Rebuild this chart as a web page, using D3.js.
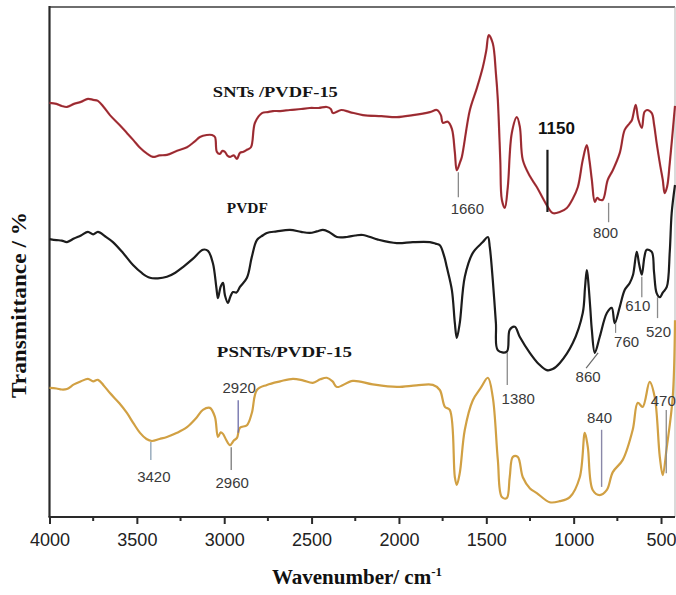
<!DOCTYPE html>
<html>
<head>
<meta charset="utf-8">
<script src="https://cdn.jsdelivr.net/npm/d3@7"></script>
<style>
  html, body { margin: 0; padding: 0; background: #fff; }
  svg { display: block; }
</style>
</head>
<body>
<svg id="chart" width="676" height="595"></svg>
<script>
// FTIR spectra: [wavenumber (cm-1), transmittance (offset, a.u.)]
const snts = [
  [4000,81.2],[3960,81.0],[3930,80.6],[3900,80.4],[3860,81.0],[3820,81.4],[3780,82.0],[3750,81.8],[3723,81.6],
  [3690,80.4],[3654,78.8],[3600,76.9],[3557,75.3],[3520,73.9],[3482,72.4],[3440,71.2],[3408,70.6],[3370,70.9],
  [3328,71.0],[3270,71.8],[3213,72.5],[3170,73.6],[3139,74.5],[3100,74.9],[3070,74.9],[3053,74.5],[3042,71.6],
  [3025,71.2],[3010,71.8],[2996,71.6],[2980,70.8],[2967,70.6],[2945,70.9],[2927,70.2],[2910,71.4],[2890,71.6],
  [2870,72.0],[2847,72.5],[2824,77.3],[2784,79.2],[2750,79.4],[2721,79.6],[2680,79.6],[2624,79.8],[2560,80.0],
  [2510,80.2],[2460,80.2],[2413,80.4],[2390,80.0],[2378,79.2],[2330,79.8],[2281,79.4],[2206,78.8],[2100,78.6],
  [2012,78.4],[1920,78.8],[1823,79.4],[1783,79.8],[1760,78.8],[1749,77.3],[1720,77.5],[1697,76.1],[1680,71.5],
  [1669,68.0],[1650,69.6],[1640,70.6],[1594,79.8],[1554,84.1],[1520,88.2],[1500,91.5],[1486,94.5],[1463,92.9],
  [1445,87.0],[1434,81.8],[1420,70.0],[1411,62.2],[1394,60.6],[1377,64.7],[1354,75.3],[1325,78.4],[1308,76.5],
  [1291,70.0],[1250,66.8],[1211,64.7],[1160,61.5],[1120,59.6],[1080,59.8],[1039,60.6],[1005,62.4],[976,64.7],
  [948,70.0],[925,72.9],[910,70.0],[896,66.1],[879,61.8],[865,62.6],[851,62.2],[833,62.2],[805,66.1],
  [776,68.0],[736,71.4],[708,75.9],[680,77.2],[667,77.8],[645,80.8],[630,78.0],[610,76.3],[595,79.4],
  [580,79.8],[553,79.2],[540,77.0],[525,73.3],[505,69.0],[490,66.1],[479,63.5],[465,64.8],[450,69.4],[420,80.6]
];

const pvdf = [
  [4000,54.5],[3960,54.3],[3930,54.2],[3900,53.9],[3860,54.6],[3820,55.2],[3780,55.9],[3750,55.4],[3723,55.9],
  [3680,55.0],[3637,53.9],[3580,51.8],[3522,49.4],[3470,47.8],[3425,46.9],[3380,46.8],[3328,47.1],[3280,47.9],
  [3236,49.0],[3180,50.6],[3122,52.4],[3093,52.2],[3065,49.8],[3045,45.0],[3036,42.9],[3020,45.2],[3007,45.9],
  [2996,43.5],[2979,42.0],[2965,43.2],[2950,44.1],[2930,44.0],[2910,45.1],[2870,46.9],[2842,51.0],[2813,54.3],
  [2780,55.2],[2756,55.7],[2700,56.0],[2624,56.3],[2560,55.9],[2510,55.7],[2470,56.0],[2435,56.3],[2400,55.9],
  [2355,54.9],[2298,54.9],[2250,55.2],[2206,55.3],[2120,54.4],[2012,53.7],[1920,53.9],[1823,53.9],[1790,53.6],
  [1766,53.3],[1740,51.0],[1726,49.0],[1697,44.5],[1680,38.0],[1669,35.1],[1652,38.0],[1623,47.1],[1577,51.8],
  [1520,53.9],[1491,54.9],[1480,52.9],[1463,46.5],[1445,38.0],[1434,32.7],[1383,32.4],[1366,36.7],[1337,37.3],
  [1308,35.3],[1251,32.2],[1200,30.0],[1154,28.8],[1120,29.0],[1079,30.2],[1005,34.1],[948,40.0],[935,45.0],
  [925,48.4],[919,47.1],[905,41.0],[896,36.7],[879,32.2],[851,35.3],[810,40.0],[782,41.0],[765,38.0],
  [736,41.2],[708,44.5],[679,45.9],[660,47.5],[639,52.0],[625,49.5],[610,47.5],[595,51.0],[582,52.4],
  [553,52.0],[540,48.0],[525,43.9],[507,43.1],[490,44.0],[467,45.1],[450,52.0],[439,59.6],[420,65.1]
];

const psnts = [
  [4000,25.3],[3960,25.2],[3930,25.0],[3900,25.1],[3860,26.0],[3820,26.6],[3780,27.1],[3750,26.6],[3723,26.9],
  [3690,25.8],[3654,24.3],[3600,22.3],[3557,20.4],[3520,18.4],[3482,16.5],[3445,15.3],[3414,14.9],[3370,15.3],
  [3328,15.7],[3270,16.5],[3213,17.6],[3160,19.4],[3122,21.0],[3082,21.4],[3053,19.6],[3036,15.7],[3020,16.6],
  [3007,16.3],[2990,15.2],[2967,14.1],[2945,15.0],[2927,15.5],[2910,17.5],[2870,18.0],[2842,20.4],[2813,24.9],
  [2756,25.9],[2680,26.6],[2607,27.1],[2550,26.8],[2493,26.3],[2450,27.0],[2413,27.3],[2380,26.6],[2355,25.5],
  [2264,26.7],[2150,26.0],[2012,25.5],[1900,25.8],[1806,25.9],[1766,24.9],[1737,21.6],[1709,21.0],[1680,7.8],
  [1669,6.3],[1652,8.6],[1623,17.1],[1577,22.9],[1530,25.4],[1491,27.3],[1463,23.5],[1434,11.2],[1411,3.9],
  [1383,3.7],[1366,7.8],[1348,11.8],[1320,11.8],[1291,7.8],[1250,5.6],[1211,4.7],[1137,2.9],[1080,3.1],
  [1022,3.9],[965,7.8],[936,16.5],[919,13.7],[891,5.3],[851,4.3],[810,5.3],[776,8.8],[719,11.2],
  [662,17.1],[633,22.4],[605,21.6],[565,26.5],[536,23.5],[507,11.8],[490,8.2],[467,13.7],[433,23.5],[420,38.6]
];

// Axis ticks
const majorTicks = [4000, 3500, 3000, 2500, 2000, 1500, 1000, 500];
const minorTicks = [3750, 3250, 2750, 2250, 1750, 1250, 750];

// Series legend text
const seriesNames = ["SNTs /PVDF-15", "PVDF", "PSNTs/PVDF-15"];
const seriesColors = ["#b3353c", "#1c1c1c", "#d1a043"];

// Band assignments
const peakLabels = ["1660", "1150", "800", "1380", "860", "760", "610", "520", "3420", "2960", "2920", "840", "470"];
const peakWavenumbers = [1660, 1150, 800, 1380, 860, 760, 610, 520, 3420, 2960, 2920, 840, 470];

const svg = d3.select("#chart");
const margin = { left: 49.5, right: 675, top: 7, bottom: 517 };

const x = d3.scaleLinear().domain([4000, 420]).range([margin.left, margin.right]);
const y = d3.scaleLinear().domain([0, 100]).range([margin.bottom, margin.top]);

// frame
svg.append("line").attr("x1", x(4000)).attr("x2", margin.right).attr("y1", margin.top).attr("y2", margin.top)
  .attr("stroke", "#6e6e6e").attr("stroke-width", 2);
svg.append("line").attr("x1", margin.right).attr("x2", margin.right).attr("y1", margin.top).attr("y2", margin.bottom)
  .attr("stroke", "#b5b5b5").attr("stroke-width", 1);
svg.append("line").attr("x1", x(4000)).attr("x2", x(4000)).attr("y1", margin.top - 1).attr("y2", margin.bottom)
  .attr("stroke", "#2a2a2a").attr("stroke-width", 2.2);

// bottom axis
const xAxis = d3.axisBottom(x).tickValues(majorTicks).tickSize(7).tickPadding(9).tickSizeOuter(0)
  .tickFormat(d3.format("d"));
const gx = svg.append("g").attr("transform", `translate(0,${margin.bottom})`).call(xAxis);
gx.select(".domain").attr("stroke", "#2a2a2a").attr("stroke-width", 2.2)
  .attr("d", `M${x(4000) - 1},0H${margin.right}`);
gx.selectAll(".tick line").attr("stroke", "#2a2a2a").attr("stroke-width", 2);
gx.selectAll(".tick text").attr("fill", "#222").attr("font-family", "Liberation Sans, Arial, sans-serif")
  .attr("font-size", 18).attr("dy", "0.71em");
gx.selectAll(".minor").data(minorTicks).enter().append("line")
  .attr("x1", d => x(d)).attr("x2", d => x(d)).attr("y1", 0).attr("y2", 4)
  .attr("stroke", "#2a2a2a").attr("stroke-width", 2);

// axis titles
const xt = svg.append("text").attr("x", 357).attr("y", 584).attr("text-anchor", "middle")
  .attr("font-family", "Liberation Serif, Times New Roman, serif").attr("font-weight", "bold")
  .attr("font-size", 21).attr("fill", "#111");
xt.append("tspan").text("Wavenumber/ cm");
xt.append("tspan").attr("dy", -8).attr("font-size", 13).text("-1");

svg.append("text").attr("transform", "translate(26,305) rotate(-90)").attr("text-anchor", "middle")
  .attr("font-family", "Liberation Serif, Times New Roman, serif").attr("font-weight", "bold")
  .attr("font-size", 20).attr("fill", "#111").attr("textLength", 186).attr("lengthAdjust", "spacingAndGlyphs")
  .text("Transmittance / %");

// spectra
const line = d3.line().x(d => x(d[0])).y(d => y(d[1])).curve(d3.curveCatmullRom.alpha(0.5));
[snts, pvdf, psnts].forEach((s, i) => {
  svg.append("path").datum(s).attr("d", line).attr("fill", "none")
    .attr("stroke", seriesColors[i]).attr("stroke-width", 2.2).attr("stroke-linejoin", "round");
});
// darker core on the red trace
svg.append("path").datum(snts).attr("d", line).attr("fill", "none")
  .attr("stroke", "#5a1e22").attr("stroke-width", 0.8).attr("opacity", 0.6);

// series names (anchor: wavenumber, value, text length)
const nameAnchors = [[3065, 82.4, 125], [2985, 59.6, 41], [3042, 31.4, 135]];
seriesNames.forEach((n, i) => {
  const a = nameAnchors[i];
  svg.append("text").attr("x", x(a[0])).attr("y", y(a[1]))
    .attr("font-family", "Liberation Serif, Times New Roman, serif").attr("font-weight", "bold")
    .attr("font-size", 15).attr("fill", "#151515")
    .attr("textLength", a[2]).attr("lengthAdjust", "spacingAndGlyphs").text(n);
});

// band markers: [leader top value, leader bottom value, label dx, label baseline value, leader dx at bottom, colour, width]
const markerLayout = [
  [67.6, 62.7, 9, 59.4, 0, "#8a8a8a", 1.3],
  [72.0, 59.8, 9, 75.1, 0, "#1a1a1a", 2.2],
  [61.6, 57.8, -3, 54.7, 0, "#8a8a8a", 1.3],
  [32.2, 25.9, 11, 22.2, 0, "#8a8a8a", 1.3],
  [32.2, 29.2, -10, 26.5, -12, "#6a6a6a", 1.2],
  [38.0, 36.1, 11, 33.3, 0, "#8a8a8a", 1.2],
  [47.1, 43.1, -4, 40.4, 0, "#8a8a8a", 1.3],
  [43.1, 39.0, 1, 35.3, 0, "#8a8a8a", 1.3],
  [14.7, 11.2, 3, 6.9, 0, "#8aa0b4", 1.3],
  [13.7, 9.2, 1, 5.7, 0, "#7a7a7a", 1.3],
  [22.9, 16.5, 1, 24.3, 0, "#6c6ca8", 1.3],
  [17.1, 5.9, -2, 18.4, 0, "#8a88a8", 1.4],
  [21.0, 8.6, -3, 21.8, 0, "#8a8a8a", 1.3]
];

peakWavenumbers.forEach((w, i) => {
  const m = markerLayout[i];
  const px = x(w);
  svg.append("line").attr("x1", px).attr("x2", px + m[4]).attr("y1", y(m[0])).attr("y2", y(m[1]))
    .attr("stroke", m[5]).attr("stroke-width", m[6]);
  const bold = peakLabels[i] === "1150";
  svg.append("text").attr("x", px + m[2]).attr("y", y(m[3])).attr("text-anchor", "middle")
    .attr("font-family", "Liberation Sans, Arial, sans-serif")
    .attr("font-size", bold ? 17 : 15).attr("font-weight", bold ? "bold" : "normal")
    .attr("fill", bold ? "#111" : "#3a3a3a").text(peakLabels[i]);
});
</script>
</body>
</html>
